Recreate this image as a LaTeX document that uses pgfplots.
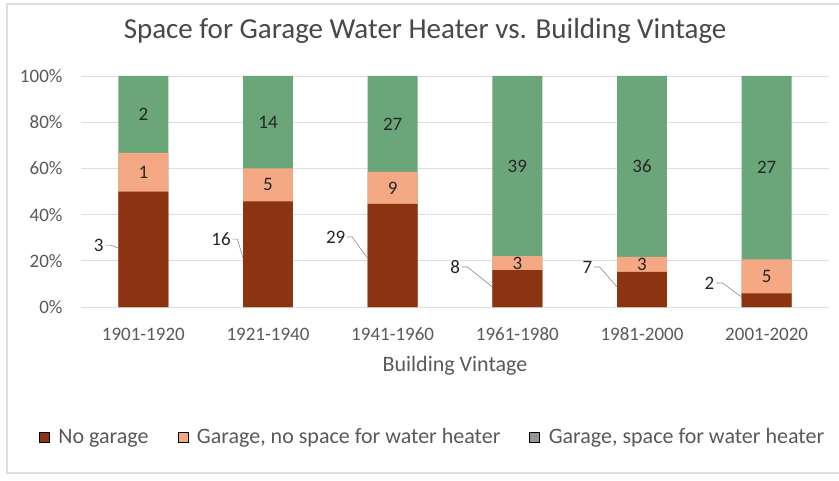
\documentclass[border=0pt]{standalone}
\usepackage{pgfplots}
\pgfplotsset{compat=1.18}
\usepackage{fontspec}
\setmainfont{Carlito}
\definecolor{cBrown}{RGB}{140,52,18}
\definecolor{cSalmon}{RGB}{244,168,132}
\definecolor{cGreen}{RGB}{106,166,122}
\definecolor{cGray}{RGB}{150,150,150}
\definecolor{cTitle}{RGB}{72,72,72}
\definecolor{cTick}{RGB}{89,89,89}
\definecolor{cGrid}{RGB}{222,222,222}
\definecolor{cLead}{RGB}{140,140,140}
\begin{document}
\begin{tikzpicture}[x=1pt,y=1pt]
\useasboundingbox (0,0) rectangle (839,480);
\fill[white] (0,0) rectangle (839,480);
\draw[cGrid, line width=1.2pt] (850,7) -- (7,7) -- (7,476) -- (850,476);
\begin{axis}[
  at={(81pt,173pt)}, anchor=south west,
  scale only axis, width=748pt, height=231pt,
  xmin=-0.5, xmax=5.5, ymin=0, ymax=100,
  axis line style={draw=none},
  major tick length=0pt,
  ytick={0,20,40,60,80,100},
  yticklabel={\pgfmathprintnumber{\tick}\%},
  ymajorgrids, grid style={cGrid, line width=0.8pt},
  xtick={0,1,2,3,4,5},
  xticklabels={1901-1920,1921-1940,1941-1960,1961-1980,1981-2000,2001-2020},
  tick label style={font=\fontsize{19}{22}\selectfont, text=cTick},
  /pgf/number format/assume math mode=true,
  xticklabel style={anchor=center, yshift=-27pt},
  yticklabel style={anchor=east, xshift=-15pt},
  title={Space for Garage Water Heater vs. Building Vintage},
  title style={at={(axis description cs:0.46,1)}, anchor=center, yshift=39pt,
    font=\fontsize{29}{33}\selectfont, text=cTitle},
  xlabel={Building Vintage},
  xlabel style={at={(axis description cs:0.5,0)}, anchor=center, yshift=-59pt,
    font=\fontsize{22}{26}\selectfont, text=cTick},
  legend style={at={(axis description cs:0.47,-0.563)}, anchor=center,
    legend columns=3, draw=none, fill=none,
    font=\fontsize{22}{26}\selectfont, text=cTick,
    /tikz/every even column/.append style={column sep=27pt}},
  legend image code/.code={\fill[#1] (0pt,-5pt) rectangle (10pt,5pt);},
  legend cell align=left,
  bar width=0.4,
  nodes near coords align=center,
]
\addlegendimage{fill=cBrown}
\addlegendentry{\hspace{7pt}No garage}
\addlegendimage{fill=cSalmon}
\addlegendentry{\hspace{7pt}Garage, no space for water heater}
\addlegendimage{fill=cGray}
\addlegendentry{\hspace{7pt}Garage, space for water heater}

% Garage, space for water heater (top of stack = 100%)
\addplot[ybar, bar shift=0pt, fill=cGreen, draw=none, forget plot]
  coordinates {(0,100) (1,100) (2,100) (3,100) (4,100) (5,100)};
% cumulative: No garage + Garage, no space
\addplot[ybar, bar shift=0pt, fill=cSalmon, draw=none, forget plot]
  coordinates {(0,66.67) (1,60.00) (2,58.46) (3,22.00) (4,21.74) (5,20.59)};
% No garage
\addplot[ybar, bar shift=0pt, fill=cBrown, draw=none, forget plot]
  coordinates {(0,50.00) (1,45.71) (2,44.62) (3,16.00) (4,15.22) (5,5.88)};

% labels: Garage, space for water heater (counts)
\addplot[draw=none, mark=none, forget plot, nodes near coords,
  point meta=explicit symbolic,
  every node near coord/.append style={font=\fontsize{19}{22}\selectfont, text=black!85}]
  coordinates {(0,83.33) [2] (1,80.00) [14] (2,79.23) [27] (3,61.00) [39] (4,60.87) [36] (5,60.29) [27]};
% labels: Garage, no space
\addplot[draw=none, mark=none, forget plot, nodes near coords,
  point meta=explicit symbolic,
  every node near coord/.append style={font=\fontsize{19}{22}\selectfont, text=black!85}]
  coordinates {(0,58.33) [1] (1,52.86) [5] (2,51.54) [9] (3,19.00) [3] (4,18.48) [3] (5,13.24) [5]};
% labels: No garage (outside, left)
\addplot[draw=none, mark=none, forget plot, nodes near coords,
  point meta=explicit symbolic, nodes near coords align=east,
  every node near coord/.append style={font=\fontsize{19}{22}\selectfont, text=black!85, inner sep=1pt}]
  coordinates {(-0.31,26.8) [3] (0.71,29.4) [16] (1.63,30.3) [29] (2.55,17.3) [8] (3.61,17.3) [7] (4.59,10.4) [2]};
% leader lines
\addplot[cLead, line width=0.6pt, mark=none, forget plot] coordinates {(-0.305,26.8) (-0.265,26.8) (-0.2,25.5)};
\addplot[cLead, line width=0.6pt, mark=none, forget plot] coordinates {(0.715,29.4) (0.755,29.4) (0.80,21)};
\addplot[cLead, line width=0.6pt, mark=none, forget plot] coordinates {(1.635,30.3) (1.675,30.3) (1.80,21)};
\addplot[cLead, line width=0.6pt, mark=none, forget plot] coordinates {(2.555,17.3) (2.60,17.3) (2.80,8.7)};
\addplot[cLead, line width=0.6pt, mark=none, forget plot] coordinates {(3.615,17.3) (3.66,17.3) (3.80,8.7)};
\addplot[cLead, line width=0.6pt, mark=none, forget plot] coordinates {(4.595,10.4) (4.645,10.4) (4.80,4.3)};
\end{axis}
\end{tikzpicture}
\end{document}
